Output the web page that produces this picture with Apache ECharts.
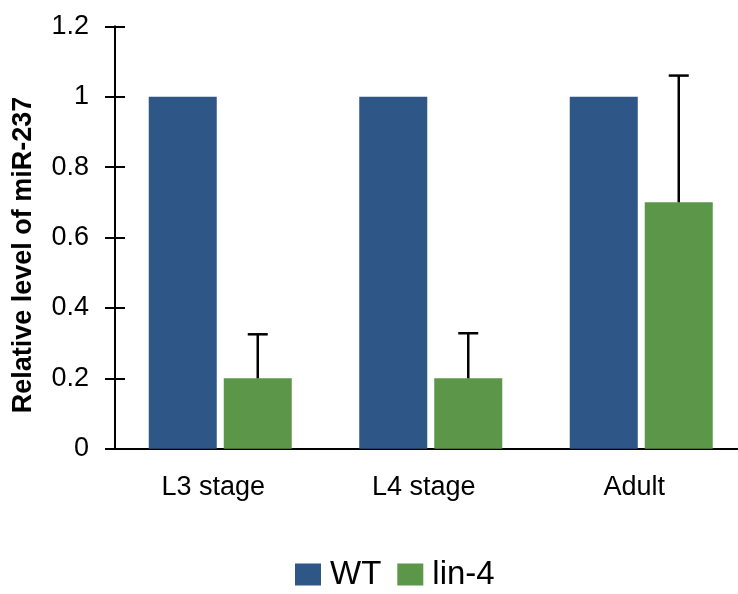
<!DOCTYPE html>
<html>
<head>
<meta charset="utf-8">
<script src="https://cdn.jsdelivr.net/npm/echarts@6/dist/echarts.min.js"></script>
<style>html,body{margin:0;padding:0;background:#fff;overflow:hidden;}#c{width:760px;height:594px;}</style>
</head>
<body>
<div id="c"></div>
<script>
var categories = ['L3 stage', 'L4 stage', 'Adult'];
var wtValues = [1, 1, 1];
var lin4Values = [0.2, 0.2, 0.7];
var lin4ErrorTop = [0.325, 0.328, 1.06];
var yTicks = [0, 0.2, 0.4, 0.6, 0.8, 1, 1.2];

var FONT = 'Liberation Sans, Arial, sans-serif';
var BAR_W = 68, BAR_GAP = 7;
var chart = echarts.init(document.getElementById('c'));
var errData = categories.map(function (c, i) { return [i, lin4Values[i], lin4ErrorTop[i]]; });

chart.setOption({
  animation: false,
  backgroundColor: '#fff',
  grid: { left: 115, top: 26.3, width: 631.5, height: 422.4, containLabel: false },
  legend: {
    left: 295, top: 558, padding: 0,
    itemWidth: 26, itemHeight: 22, itemGap: 16,
    icon: 'rect',
    textStyle: { fontFamily: FONT, fontSize: 33, color: '#000', padding: [0, 0, 0, 4] },
    data: ['WT', 'lin-4']
  },
  xAxis: {
    type: 'category', data: categories,
    axisTick: { show: false },
    axisLine: { lineStyle: { color: '#000', width: 2 } },
    axisLabel: { fontFamily: FONT, fontSize: 27, color: '#000', margin: 25, padding: [0, 14, 0, 0] }
  },
  yAxis: [{
    type: 'value', min: 0, max: 1.2, interval: 0.2,
    splitLine: { show: false },
    axisLine: { show: true, lineStyle: { color: '#000', width: 2 } },
    axisTick: { show: true, length: 10, lineStyle: { color: '#000', width: 2 } },
    axisLabel: { fontFamily: FONT, fontSize: 27, color: '#000', margin: 26,
      formatter: function (v) { return String(Math.round(v * 10) / 10); } }
  }, {
    type: 'value', min: 0, max: 1.2, interval: 0.2, position: 'left',
    splitLine: { show: false },
    axisLine: { show: false },
    axisTick: { show: true, inside: true, length: 10, lineStyle: { color: '#000', width: 2 } },
    axisLabel: { show: false }
  }],
  graphic: [{
    type: 'text', x: 24, y: 255, rotation: Math.PI / 2,
    style: { text: 'Relative level of miR-237', font: 'bold 27px ' + FONT, fill: '#000',
      textAlign: 'center', textVerticalAlign: 'middle' }
  }],
  series: [{
    name: 'WT', type: 'bar', data: wtValues, barWidth: BAR_W, barGap: (BAR_GAP / BAR_W * 100) + '%',
    itemStyle: { color: '#2E5687' }
  }, {
    name: 'lin-4', type: 'bar', data: lin4Values, barWidth: BAR_W,
    itemStyle: { color: '#5B9649' }
  }, {
    type: 'custom', name: 'err', data: errData, z: 10, clip: false,
    encode: { x: 0, y: [1, 2] },
    renderItem: function (params, api) {
      var off = BAR_W / 2 + BAR_GAP / 2;
      var p0 = api.coord([api.value(0), api.value(1)]);
      var p1 = api.coord([api.value(0), api.value(2)]);
      var x = p0[0] + off;
      var st = { stroke: '#000', lineWidth: 2.5 };
      return { type: 'group', children: [
        { type: 'line', shape: { x1: x, y1: p0[1], x2: x, y2: p1[1] }, style: st },
        { type: 'line', shape: { x1: x - 10, y1: p1[1], x2: x + 10, y2: p1[1] }, style: st }
      ] };
    }
  }]
});
</script>
</body>
</html>
